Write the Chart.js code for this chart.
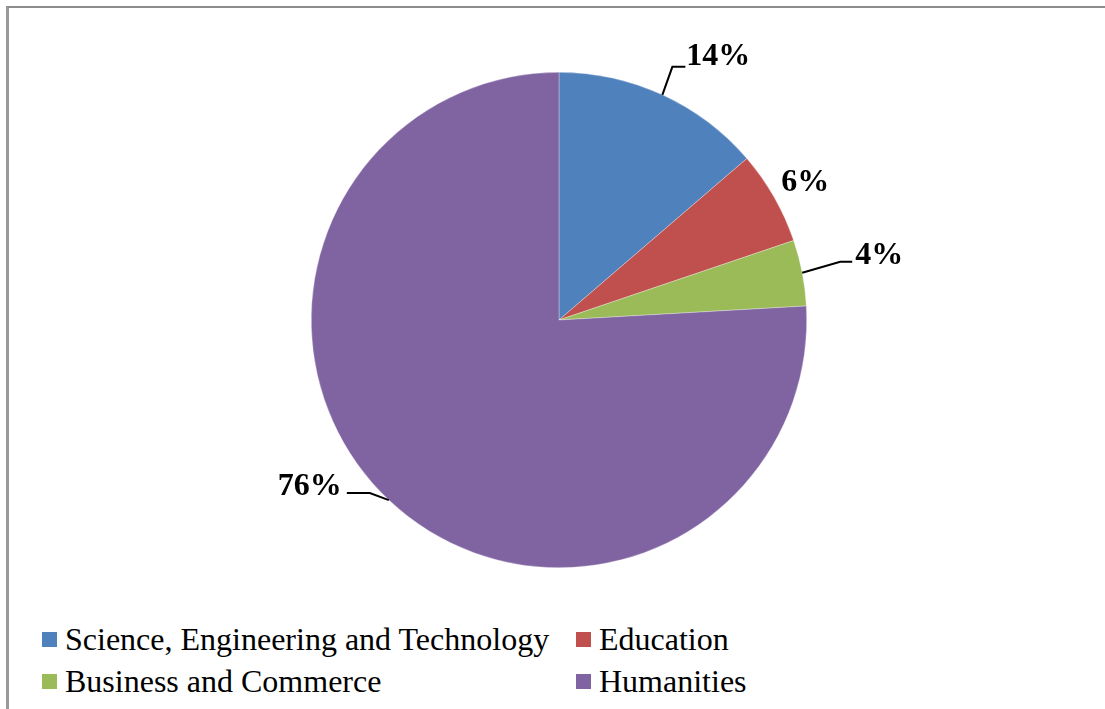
<!DOCTYPE html>
<html>
<head>
<meta charset="utf-8">
<script src="https://cdn.jsdelivr.net/npm/chart.js@4"></script>
<style>
  body { margin: 0; background: #fff; }
  #wrap { position: relative; width: 1105px; height: 709px; overflow: hidden; }
  #frame { position: absolute; left: 6px; top: 6px; width: 1110px; height: 720px;
           border-top: 2px solid #8c8c8c; border-left: 3px solid #9a9a9a; }
  #chart { position: absolute; left: 0; top: 0; }
  #legend { position: absolute; left: 42px; top: 620px; display: grid;
            grid-template-columns: 534px 300px; row-gap: 4px;
            font-family: "Liberation Serif", "Times New Roman", serif; font-size: 32px; color: #000; }
  .item { display: flex; align-items: center; height: 38px; white-space: nowrap; }
  .box { width: 15px; height: 15px; margin-right: 8px; flex: none; }
</style>
</head>
<body>
<div id="wrap">
  <div id="frame"></div>
  <canvas id="chart" width="1105" height="600"></canvas>
  <div id="legend"></div>
</div>
<script>
// categories and their share of the total (%)
const categories = ['Science, Engineering and Technology', 'Education', 'Business and Commerce', 'Humanities'];
const shares = [13.7, 6.1, 4.3, 75.9];
const percentLabels = ['14%', '6%', '4%', '76%'];
const sliceColors = ['#4F81BD', '#C0504D', '#9BBB59', '#8064A2'];

// label placement relative to the point where each slice's mid-angle meets the rim
// line: leader-line points (first point is the rim itself), text: label centre
const labelPlacement = [
    { line: [[0, 0], [10, -28], [23, -28]], text: [56, -41] },
    { line: null, text: [31, -17] },
    { line: [[0, 0], [38, -11], [50, -11]], text: [77, -20] },
    { line: [[0, 0], [-19, -7], [-42, -7]], text: [-79, -16] }
];

const pieLabels = {
    id: 'pieLabels',
    afterDatasetsDraw(chart) {
        const ctx = chart.ctx;
        const arcs = chart.getDatasetMeta(0).data;
        ctx.save();
        ctx.font = 'bold 32px "Liberation Serif", "Times New Roman", serif';
        ctx.fillStyle = '#000';
        ctx.strokeStyle = '#000';
        ctx.lineWidth = 2;
        ctx.textAlign = 'center';
        ctx.textBaseline = 'alphabetic';
        arcs.forEach((arc, i) => {
            const p = arc.getProps(['x', 'y', 'startAngle', 'endAngle', 'outerRadius'], true);
            const mid = (p.startAngle + p.endAngle) / 2;
            const ex = p.x + Math.cos(mid) * p.outerRadius;
            const ey = p.y + Math.sin(mid) * p.outerRadius;
            const place = labelPlacement[i];
            if (place.line) {
                ctx.beginPath();
                place.line.forEach((pt, k) => {
                    if (k === 0) ctx.moveTo(ex + pt[0], ey + pt[1]);
                    else ctx.lineTo(ex + pt[0], ey + pt[1]);
                });
                ctx.stroke();
            }
            ctx.fillText(percentLabels[i], ex + place.text[0], ey + place.text[1] + 11);
        });
        ctx.restore();
    }
};

const chart = new Chart(document.getElementById('chart'), {
    type: 'pie',
    data: {
        labels: categories,
        datasets: [{
            data: shares,
            backgroundColor: sliceColors,
            borderColor: 'rgba(255,255,255,0.6)',
            borderWidth: 0.5
        }]
    },
    options: {
        responsive: false,
        animation: false,
        layout: { padding: { left: 311, right: 298, top: 72, bottom: 32 } },
        plugins: {
            legend: { display: false },
            tooltip: { enabled: false }
        }
    },
    plugins: [pieLabels]
});

// legend in two columns, row by row like the original
const legendDiv = document.getElementById('legend');
categories.forEach((name, i) => {
    const item = document.createElement('div');
    item.className = 'item';
    item.innerHTML = '<span class="box" style="background:' + sliceColors[i] + '"></span>' + name;
    legendDiv.appendChild(item);
});
</script>
</body>
</html>
